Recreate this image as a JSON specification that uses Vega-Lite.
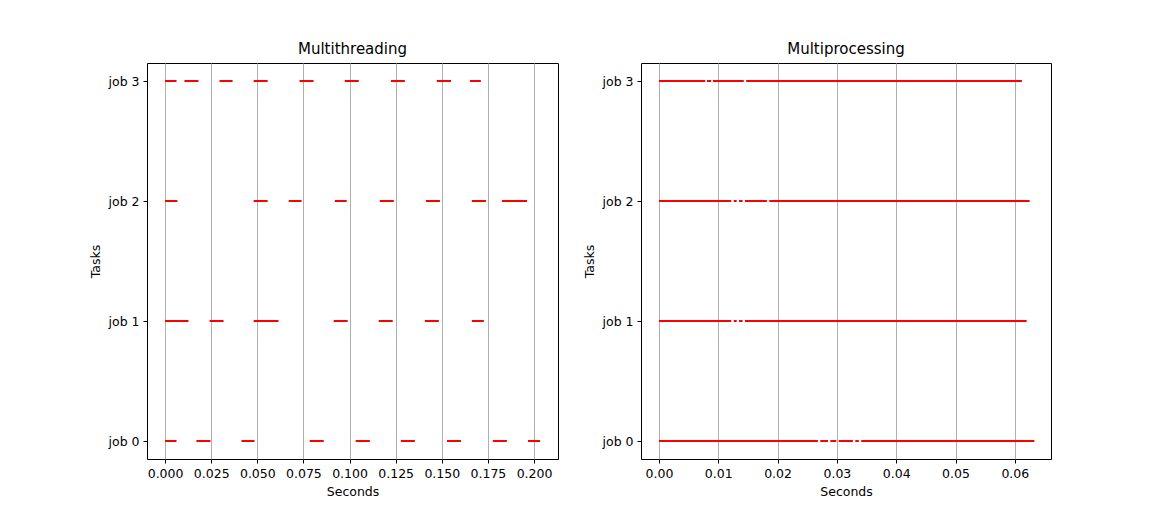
{
  "$schema": "https://vega.github.io/schema/vega-lite/v6.json",
  "background": "white",
  "padding": {"left": 88, "top": 41, "right": 5, "bottom": 5},
  "datasets": {
    "thread": [
      {"job": 3, "start": 0.0, "end": 0.0062}, {"job": 3, "start": 0.0105, "end": 0.0181},
      {"job": 3, "start": 0.0295, "end": 0.0366}, {"job": 3, "start": 0.048, "end": 0.0556},
      {"job": 3, "start": 0.0729, "end": 0.0805}, {"job": 3, "start": 0.0974, "end": 0.105},
      {"job": 3, "start": 0.1224, "end": 0.130}, {"job": 3, "start": 0.1473, "end": 0.155},
      {"job": 3, "start": 0.1653, "end": 0.1712},
      {"job": 2, "start": 0.0, "end": 0.0067}, {"job": 2, "start": 0.048, "end": 0.0556},
      {"job": 2, "start": 0.067, "end": 0.074}, {"job": 2, "start": 0.092, "end": 0.0985},
      {"job": 2, "start": 0.1164, "end": 0.124}, {"job": 2, "start": 0.1414, "end": 0.149},
      {"job": 2, "start": 0.1663, "end": 0.174}, {"job": 2, "start": 0.1826, "end": 0.1962},
      {"job": 1, "start": 0.0, "end": 0.0127}, {"job": 1, "start": 0.0241, "end": 0.0317},
      {"job": 1, "start": 0.048, "end": 0.0615}, {"job": 1, "start": 0.0914, "end": 0.099},
      {"job": 1, "start": 0.1158, "end": 0.1234}, {"job": 1, "start": 0.1408, "end": 0.1484},
      {"job": 1, "start": 0.1663, "end": 0.1728},
      {"job": 0, "start": 0.0, "end": 0.0062}, {"job": 0, "start": 0.017, "end": 0.0246},
      {"job": 0, "start": 0.0414, "end": 0.0485}, {"job": 0, "start": 0.0784, "end": 0.086},
      {"job": 0, "start": 0.1033, "end": 0.111}, {"job": 0, "start": 0.1278, "end": 0.1354},
      {"job": 0, "start": 0.1528, "end": 0.1604}, {"job": 0, "start": 0.1777, "end": 0.1853},
      {"job": 0, "start": 0.1967, "end": 0.2033}
    ],
    "process": [
      {"job": 3, "start": 0.0, "end": 0.0078}, {"job": 3, "start": 0.0081, "end": 0.0088},
      {"job": 3, "start": 0.0091, "end": 0.0143}, {"job": 3, "start": 0.0147, "end": 0.0612},
      {"job": 2, "start": 0.0, "end": 0.0122}, {"job": 2, "start": 0.0126, "end": 0.0131},
      {"job": 2, "start": 0.0135, "end": 0.0141}, {"job": 2, "start": 0.0145, "end": 0.0182},
      {"job": 2, "start": 0.0186, "end": 0.0625},
      {"job": 1, "start": 0.0, "end": 0.0122}, {"job": 1, "start": 0.0126, "end": 0.0131},
      {"job": 1, "start": 0.0135, "end": 0.0141}, {"job": 1, "start": 0.0145, "end": 0.062},
      {"job": 0, "start": 0.0, "end": 0.0268}, {"job": 0, "start": 0.0272, "end": 0.0285},
      {"job": 0, "start": 0.0289, "end": 0.0299}, {"job": 0, "start": 0.0303, "end": 0.0327},
      {"job": 0, "start": 0.0331, "end": 0.0337}, {"job": 0, "start": 0.0341, "end": 0.0633}
    ]
  },
  "spacing": 23,
  "hconcat": [
    {
      "width": 411, "height": 396,
      "title": "Multithreading",
      "data": {"name": "thread"},
      "mark": {"type": "rule", "color": "red", "strokeWidth": 2},
      "encoding": {
        "x": {"field": "start", "type": "quantitative", "title": "Seconds",
              "scale": {"domain": [-0.0098, 0.213], "nice": false, "zero": false},
              "axis": {"values": [0, 0.025, 0.05, 0.075, 0.1, 0.125, 0.15, 0.175, 0.2], "format": ".3f", "grid": true}},
        "x2": {"field": "end"},
        "y": {"field": "job", "type": "quantitative", "title": "Tasks",
              "scale": {"domain": [-0.15, 3.15], "nice": false},
              "axis": {"values": [0, 1, 2, 3], "labelExpr": "'job ' + datum.value", "grid": false}}
      }
    },
    {
      "width": 410, "height": 396,
      "title": "Multiprocessing",
      "data": {"name": "process"},
      "mark": {"type": "rule", "color": "red", "strokeWidth": 2},
      "encoding": {
        "x": {"field": "start", "type": "quantitative", "title": "Seconds",
              "scale": {"domain": [-0.00303, 0.0661], "nice": false, "zero": false},
              "axis": {"values": [0, 0.01, 0.02, 0.03, 0.04, 0.05, 0.06], "format": ".2f", "grid": true}},
        "x2": {"field": "end"},
        "y": {"field": "job", "type": "quantitative", "title": "Tasks",
              "scale": {"domain": [-0.15, 3.15], "nice": false},
              "axis": {"values": [0, 1, 2, 3], "labelExpr": "'job ' + datum.value", "grid": false}}
      }
    }
  ],
  "config": {
    "font": "DejaVu Sans",
    "view": {"stroke": "black", "strokeWidth": 1},
    "title": {"fontSize": 15, "fontWeight": "normal", "color": "black", "offset": 6},
    "axis": {"labelFontSize": 12.5, "titleFontSize": 12.5, "titleFontWeight": "normal",
             "labelColor": "black", "titleColor": "black", "tickColor": "black",
             "domain": false, "tickSize": 4, "gridColor": "#b0b0b0", "labelPadding": 4, "titlePadding": 6}
  }
}
